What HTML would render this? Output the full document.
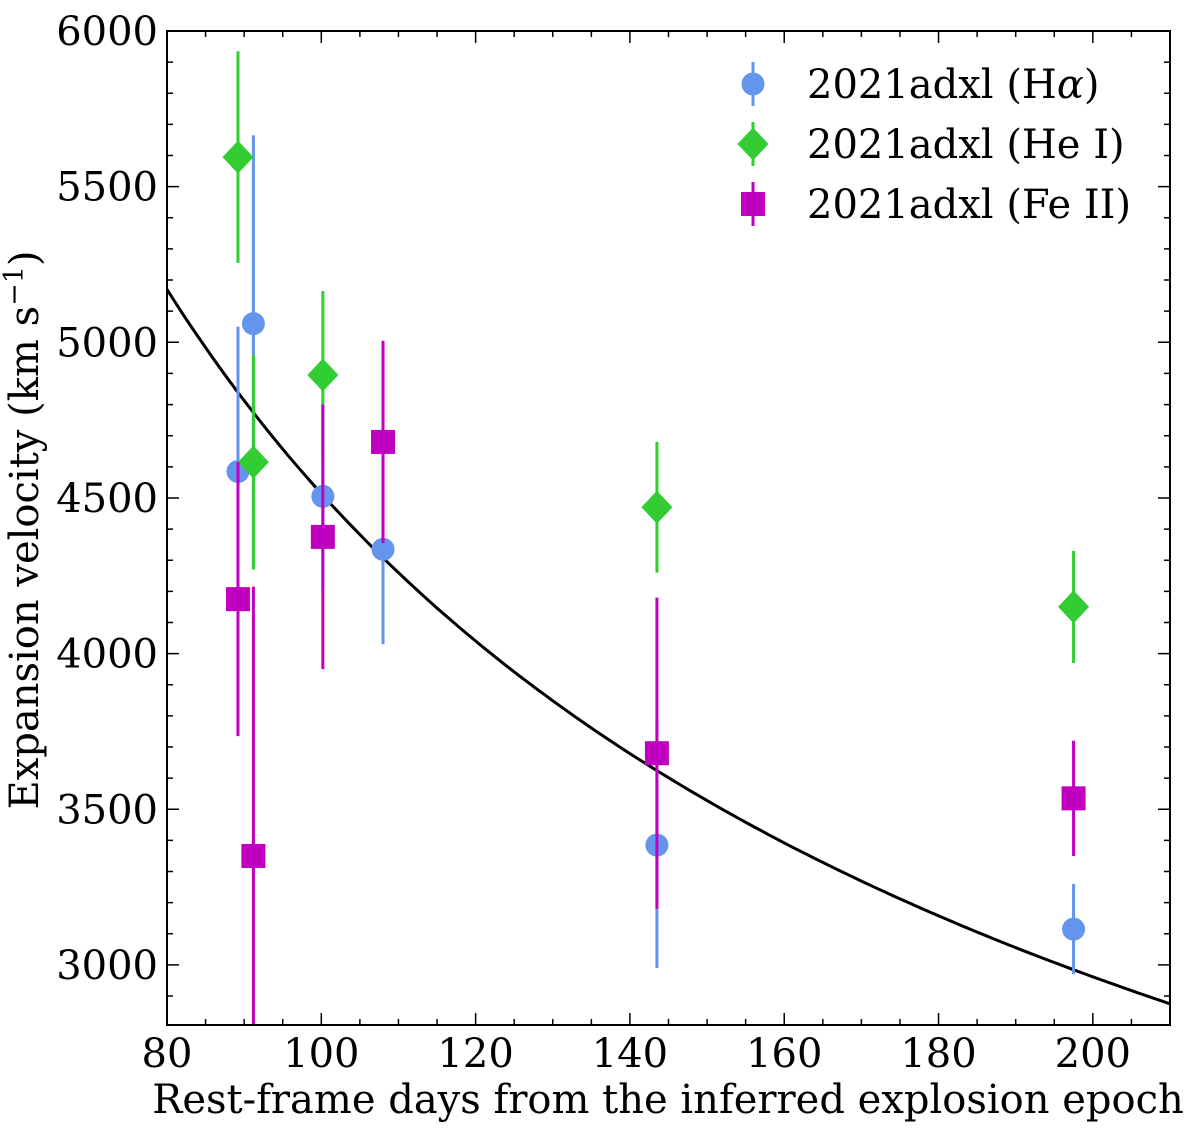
<!DOCTYPE html>
<html><head><meta charset="utf-8"><style>
html,body{margin:0;padding:0;background:#fff;}
svg text{font-family:"DejaVu Serif","Liberation Serif",serif;fill:#000;}
</style></head><body>
<svg id="chart" width="1200" height="1137" xmlns="http://www.w3.org/2000/svg">
<defs><clipPath id="pc"><rect x="167" y="31" width="1003" height="994"/></clipPath></defs>
<g id="ticks"></g>
<g id="fit" clip-path="url(#pc)"></g>
<g id="marks" clip-path="url(#pc)"></g>
<rect x="167" y="31" width="1003" height="994" fill="none" stroke="#000" stroke-width="2"/>
<text x="668" y="1113" font-size="40" text-anchor="middle">Rest-frame days from the inferred explosion epoch</text>
<text transform="translate(38,530) rotate(-90)" font-size="40" text-anchor="middle">Expansion velocity (km s<tspan baseline-shift="super" font-size="27">−1</tspan>)</text>
<g id="legend"></g>
</svg>
<script>
const xTicks=[80,100,120,140,160,180,200];
const yTicks=[3000,3500,4000,4500,5000,5500,6000];
const haDays=[89.2,91.2,100.2,108.0,143.5,197.5];
const haVel=[4585,5060,4505,4335,3385,3115];
const haErr=[465,605,300,305,395,145];
const heDays=[89.2,91.2,100.2,143.5,197.5];
const heVel=[5595,4615,4895,4470,4150];
const heErr=[340,345,270,210,180];
const feDays=[89.2,91.2,100.2,108.0,143.5,197.5];
const feVel=[4175,3350,4375,4680,3680,3535];
const feErr=[440,865,425,325,500,185];
const fitParams=[5170,80,0.608]; // v = A*(t/t0)^-b
const X0=167,X1=1170,Y0=31,Y1=1025,xmin=80,xmax=210,ymin=2807,ymax=6000;
const sx=v=>X0+(v-xmin)/(xmax-xmin)*(X1-X0);
const sy=v=>Y1-(v-ymin)/(ymax-ymin)*(Y1-Y0);
const NS='http://www.w3.org/2000/svg';
function mk(tag,attrs,parent){const e=document.createElementNS(NS,tag);for(const k in attrs)e.setAttribute(k,attrs[k]);parent.appendChild(e);return e;}
const tg=document.getElementById('ticks');
for(let v=80;v<=210;v+=5){const maj=v%20===0;const L=maj?12:6;const x=sx(v);
 const t=mk('path',{d:`M${x},${Y1}v${-L}M${x},${Y0}v${L}`,stroke:'#000','stroke-width':1.5},tg);
 
 }
xTicks.forEach(v=>{const t=mk('text',{x:sx(v),y:1067,'font-size':40,'text-anchor':'middle'},tg);t.textContent=v;
 
 });
for(let v=2900;v<=6000;v+=100){const maj=v%500===0;const L=maj?12:6;const y=sy(v);
 const t=mk('path',{d:`M${X0},${y}h${L}M${X1},${y}h${-L}`,stroke:'#000','stroke-width':1.5},tg);
 
 }
yTicks.forEach(v=>{const t=mk('text',{x:158,y:sy(v)+14,'font-size':40,'text-anchor':'end'},tg);t.textContent=v;
 
 });
let d='';for(let t=80;t<=210;t+=1){const v=fitParams[0]*Math.pow(t/fitParams[1],-fitParams[2]);d+=(t===80?'M':'L')+sx(t).toFixed(1)+','+sy(v).toFixed(1);}
const fp=mk('path',{d:d,fill:'none',stroke:'#000','stroke-width':3},document.getElementById('fit'));


const mg=document.getElementById('marks');
function marker(shape,x,y,color,parent){
 if(shape==='circle')return mk('circle',{cx:x,cy:y,r:11.5,fill:color},parent);
 if(shape==='diamond')return mk('path',{d:`M${x},${y-16.5}L${x+15.5},${y}L${x},${y+16.5}L${x-15.5},${y}Z`,fill:color},parent);
 return mk('rect',{x:x-12,y:y-12,width:24,height:24,fill:color},parent);}
function series(days,vel,err,color,shape,name){
 const g=mk('g',{},mg);
 
 
 days.forEach((t,i)=>{const x=sx(t);
  const eb=mk('line',{x1:x,x2:x,y1:sy(vel[i]-err[i]),y2:sy(vel[i]+err[i]),stroke:color,'stroke-width':3},g);
  
  });
 days.forEach((t,i)=>{const m=marker(shape,sx(t),sy(vel[i]),color,g);
  
  });}
series(haDays,haVel,haErr,'#6495ED','circle','halpha');
series(heDays,heVel,heErr,'#32CD32','diamond','hei');
series(feDays,feVel,feErr,'#C000C0','square','feii');
const lg=document.getElementById('legend');
[['#6495ED','circle','2021adxl (H','α',')'],['#32CD32','diamond','2021adxl (He I)','',''],['#C000C0','square','2021adxl (Fe II)','','']].forEach((e,i)=>{
 const y=84+i*60;
 const l=mk('line',{x1:753,x2:753,y1:y-22,y2:y+22,stroke:e[0],'stroke-width':3},lg);
 
 
 const m=marker(e[1],753,y,e[0],lg);
 
 
 const t=mk('text',{x:807,y:y+14,'font-size':40},lg);
 
 
 t.textContent=e[2];
 if(e[3]){const s=mk('tspan',{'font-style':'italic'},t);s.textContent=e[3];const s2=mk('tspan',{},t);s2.textContent=e[4];}
});
</script>
</body></html>
